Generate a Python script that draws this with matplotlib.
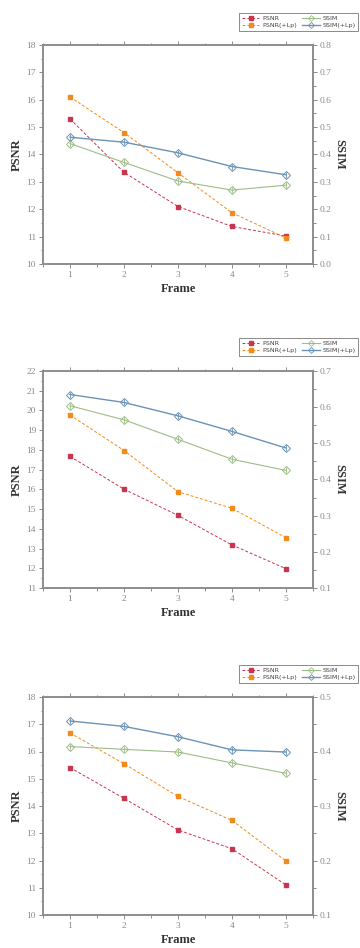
import numpy as np
import matplotlib
matplotlib.use("Agg")
from matplotlib import pyplot as plt
from matplotlib.ticker import MultipleLocator
from matplotlib.lines import Line2D

frames = [1, 2, 3, 4, 5]

# panel 1
psnr_1 = [15.30, 13.35, 12.10, 11.37, 11.02]
psnr_lp_1 = [16.10, 14.80, 13.33, 11.87, 10.95]
ssim_1 = [0.440, 0.371, 0.303, 0.270, 0.288]
ssim_lp_1 = [0.463, 0.445, 0.406, 0.356, 0.326]

# panel 2
psnr_2 = [17.67, 16.01, 14.68, 13.18, 11.98]
psnr_lp_2 = [19.77, 17.97, 15.88, 15.04, 13.55]
ssim_2 = [0.604, 0.565, 0.511, 0.456, 0.425]
ssim_lp_2 = [0.635, 0.613, 0.576, 0.533, 0.487]

# panel 3
psnr_3 = [15.41, 14.28, 13.12, 12.43, 11.10]
psnr_lp_3 = [16.68, 15.55, 14.35, 13.47, 11.98]
ssim_3 = [0.409, 0.404, 0.399, 0.379, 0.360]
ssim_lp_3 = [0.456, 0.446, 0.427, 0.403, 0.399]

psnr_lims = [(10, 18), (11, 22), (10, 18)]
ssim_lims = [(0.0, 0.8), (0.1, 0.7), (0.1, 0.5)]

labels = ["PSNR", "PSNR(+Lp)", "SSIM", "SSIM(+Lp)"]
c_psnr = "#c8354f"
c_psnr_lp = "#f28a1c"
c_ssim = "#9dbd88"
c_ssim_lp = "#6b93b6"
gray = "#8a8a8a"

serif = ["Liberation Serif", "DejaVu Serif"]

fig = plt.figure(figsize=(3.6, 9.48), dpi=100)

# axes boxes in pixels: (top, bottom, legend top)
boxes = [(45, 264, 13), (371, 588, 338), (697, 915, 665)]
data = [(psnr_1, psnr_lp_1, ssim_1, ssim_lp_1),
        (psnr_2, psnr_lp_2, ssim_2, ssim_lp_2),
        (psnr_3, psnr_lp_3, ssim_3, ssim_lp_3)]

W, H = 360.0, 948.0
for k in range(3):
    top, bot, ltop = boxes[k]
    p, plp, s, slp = data[k]
    ax = fig.add_axes([43 / W, 1 - bot / H, 270 / W, (bot - top) / H])
    ax2 = ax.twinx()

    ax.plot(frames, p, ls=(0, (3, 2)), lw=0.7, color=c_psnr, marker="s",
            ms=3.4, mec=c_psnr, mfc=c_psnr)
    ax.plot(frames, plp, ls=(0, (3, 2)), lw=0.7, color=c_psnr_lp, marker="s",
            ms=3.4, mec=c_psnr_lp, mfc=c_psnr_lp)
    ax2.plot(frames, s, ls="-", lw=0.8, color=c_ssim, marker="D",
             ms=3.6, mec=c_ssim, mfc="none", mew=0.7)
    ax2.plot(frames, slp, ls="-", lw=1.0, color=c_ssim_lp, marker="D",
             ms=3.6, mec=c_ssim_lp, mfc="none", mew=0.7)
    ax2.plot(frames, s, ls="none", marker="|", ms=4, color=c_ssim, mew=0.6)
    ax2.plot(frames, slp, ls="none", marker="|", ms=4, color=c_ssim_lp, mew=0.6)

    ax.set_xlim(0.5, 5.5)
    ax.set_ylim(*psnr_lims[k])
    ax2.set_ylim(*ssim_lims[k])
    ax.set_xticks(frames)
    ax.xaxis.set_minor_locator(MultipleLocator(0.5))
    ax.yaxis.set_major_locator(MultipleLocator(1))
    ax.yaxis.set_minor_locator(MultipleLocator(0.5))
    ax2.yaxis.set_minor_locator(MultipleLocator(0.05))
    ax2.set_yticks(np.round(np.arange(ssim_lims[k][0], ssim_lims[k][1] + 0.001, 0.1), 1))
    ax2.set_yticklabels(["%.1f" % v for v in ax2.get_yticks()])

    for a in (ax, ax2):
        for sp in a.spines.values():
            sp.set_color(gray)
            sp.set_linewidth(1.1)
        a.tick_params(which="both", colors=gray, labelcolor=gray, labelsize=6.8,
                      width=0.7, pad=2)
        a.tick_params(which="major", length=3)
        a.tick_params(which="minor", length=1.8)
        for t in a.get_xticklabels() + a.get_yticklabels():
            t.set_family(serif)
    ax.tick_params(axis="x", which="both", top=True, direction="out")

    ax.set_xlabel("Frame", family=serif, fontsize=9, color="#333333",
                  fontweight="bold", labelpad=3)
    ax.set_ylabel("PSNR", family=serif, fontsize=9, color="#333333",
                  fontweight="bold", labelpad=3)
    ax2.set_ylabel("SSIM", family=serif, fontsize=9, color="#333333",
                   fontweight="bold", rotation=-90, labelpad=10)

    handles = [
        Line2D([], [], ls=(0, (3, 2)), lw=0.7, color=c_psnr, marker="s", ms=3, mfc=c_psnr, mec=c_psnr),
        Line2D([], [], ls=(0, (3, 2)), lw=0.7, color=c_psnr_lp, marker="s", ms=3, mfc=c_psnr_lp, mec=c_psnr_lp),
        Line2D([], [], ls="-", lw=0.8, color=c_ssim, marker="D", ms=3, mfc="none", mec=c_ssim, mew=0.6),
        Line2D([], [], ls="-", lw=1.0, color=c_ssim_lp, marker="D", ms=3, mfc="none", mec=c_ssim_lp, mew=0.6),
    ]
    leg = fig.legend(handles, labels, ncol=2, fontsize=4.6,
                     loc="upper right", bbox_to_anchor=(358 / W, 1 - ltop / H),
                     frameon=True, fancybox=False, handlelength=2.8,
                     columnspacing=0.8, handletextpad=0.4, labelspacing=0.3,
                     borderpad=0.4, borderaxespad=0)
    leg.get_frame().set_edgecolor("#555555")
    leg.get_frame().set_linewidth(0.6)
    for t in leg.get_texts():
        t.set_color("#444444")

fig.savefig("out.png", dpi=100)
